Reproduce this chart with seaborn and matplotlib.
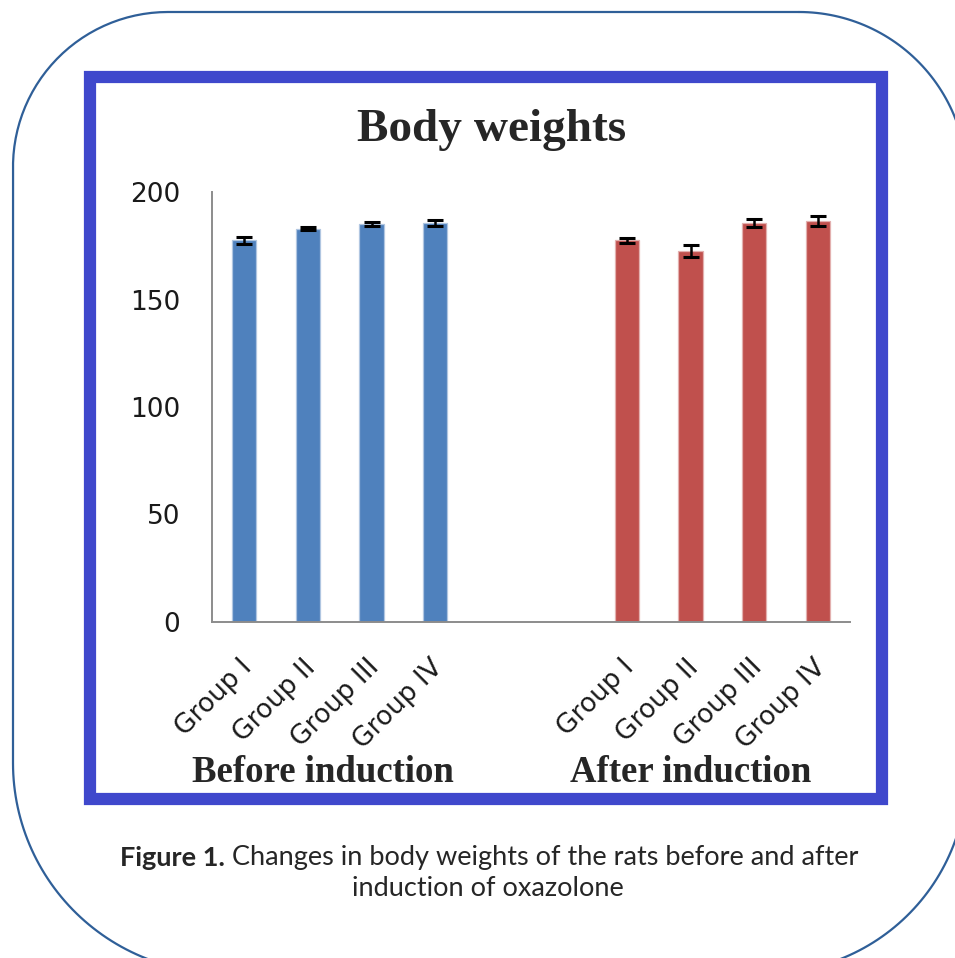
import matplotlib
matplotlib.use("Agg")
import matplotlib.pyplot as plt
import matplotlib.patches as mpatches
import matplotlib.transforms as mtransforms
import matplotlib.colors as mcolors
import seaborn as sns
import numpy as np
import pandas as pd

# === Data ===
groups = ["Group I", "Group II", "Group III", "Group IV"]
phases = ["Before induction", "After induction"]
before_mean = [177.5, 183.0, 185.2, 185.5]
before_err = [1.5, 0.8, 0.8, 1.3]
after_mean = [177.5, 172.5, 185.5, 186.5]
after_err = [1.3, 2.8, 1.8, 2.5]
colors = {phases[0]: "#4f81bd", phases[1]: "#c0504d"}

# slot order on the category axis: two empty slots between the phases
order = [f"B {g}" for g in groups] + ["gap1", "gap2"] + [f"A {g}" for g in groups]
df = pd.DataFrame({
    "slot": [f"B {g}" for g in groups] + [f"A {g}" for g in groups],
    "weight": before_mean + after_mean,
    "err": before_err + after_err,
    "phase": [phases[0]] * 4 + [phases[1]] * 4,
})
df["pos"] = [order.index(s) for s in df["slot"]]

W, H = 955, 958
sns.set_style("white")
fig = plt.figure(figsize=(W / 100, H / 100), dpi=100)


def rounded_outline(x0, y0, x1, y1, r_tl, r_tr, r_br, r_bl, n=60):
    """Outline of a box with its own radius on each corner (y grows downward)."""
    def arc(cx, cy, r, a0, a1):
        t = np.radians(np.linspace(a0, a1, n))
        return cx + r * np.cos(t), cy + r * np.sin(t)
    parts = [arc(x1 - r_tr, y0 + r_tr, r_tr, -90, 0),
             arc(x1 - r_br, y1 - r_br, r_br, 0, 90),
             arc(x0 + r_bl, y1 - r_bl, r_bl, 90, 180),
             arc(x0 + r_tl, y0 + r_tl, r_tl, 180, 270)]
    xs = np.concatenate([p[0] for p in parts] + [parts[0][0][:1]])
    ys = np.concatenate([p[1] for p in parts] + [parts[0][1][:1]])
    return xs, ys


# === Decoration layer in pixel units: outer rounded box and blue frame ===
bg = fig.add_axes([0, 0, 1, 1], zorder=-1)
bg.set_xlim(0, W)
bg.set_ylim(H, 0)
bg.axis("off")
ox, oy = rounded_outline(13, 12, 967, 973, 155, 168, 200, 210)
bg.plot(ox, oy, color="#2f5f98", linewidth=1.6)
bg.add_patch(mpatches.Rectangle((90, 77), 792, 722, fill=False,
                                edgecolor="#3f48cc", linewidth=8.8,
                                joinstyle="miter"))

# === Bar chart ===
ax = fig.add_axes([212 / W, 1 - 622 / H, 638 / W, 430 / H])
ax.patch.set_alpha(0)
sns.barplot(data=df, x="slot", y="weight", hue="phase", order=order,
            palette=colors, saturation=1, dodge=False, width=0.38,
            errorbar=None, legend=False, linewidth=0.9, ax=ax)
# light halo around each bar, like the original
for bar in ax.patches:
    fc = np.array(mcolors.to_rgb(bar.get_facecolor()))
    bar.set_edgecolor(fc + (1 - fc) * 0.55)
ax.errorbar(df["pos"], df["weight"], yerr=df["err"], fmt="none",
            ecolor="black", elinewidth=1.8, capsize=6, capthick=2.2, zorder=5)

ax.set_xlim(-0.5, len(order) - 0.5)
ax.set_ylim(0, 200)
ax.set_yticks([0, 50, 100, 150, 200])
ax.tick_params(axis="y", length=0, pad=23, labelsize=19)
ax.set_xticks(df["pos"])
ax.set_xticklabels(groups * 2, rotation=45, ha="right", va="center",
                   rotation_mode="anchor", fontsize=19)
ax.tick_params(axis="x", length=0, pad=30)
shift = mtransforms.ScaledTranslation(4 / 100, 0, fig.dpi_scale_trans)
for lab in ax.get_xticklabels():
    lab.set_transform(lab.get_transform() + shift)
for lab in ax.get_yticklabels() + ax.get_xticklabels():
    lab.set_color("#1a1a1a")
ax.set_xlabel("")
ax.set_ylabel("")
for side in ["top", "right"]:
    ax.spines[side].set_visible(False)
for side in ["left", "bottom"]:
    ax.spines[side].set_color("#8c8c8c")
    ax.spines[side].set_linewidth(1.4)

# === Texts ===
serif = ["Liberation Serif", "DejaVu Serif"]
fig.text(492 / W, 1 - 130 / H, "Body weights", ha="center", va="center",
         family=serif, fontweight="bold", fontsize=34)
fig.text(323 / W, 1 - 772 / H, phases[0], ha="center", va="center",
         family=serif, fontweight="bold", fontsize=26.5)
fig.text(691 / W, 1 - 772 / H, phases[1], ha="center", va="center",
         family=serif, fontweight="bold", fontsize=26.5)

cap_font = ["Lato", "DejaVu Sans"]
renderer = fig.canvas.get_renderer()
t1 = fig.text(120 / W, 1 - 858 / H, "Figure 1.", ha="left", va="center",
              family=cap_font, fontweight="bold", fontsize=19.5)
w1 = t1.get_window_extent(renderer).width
fig.text((120 + w1 + 7) / W, 1 - 858 / H,
         "Changes in body weights of the rats before and after",
         ha="left", va="center", family=cap_font, fontsize=19.5)
fig.text(488 / W, 1 - 889 / H, "induction of oxazolone", ha="center",
         va="center", family=cap_font, fontsize=19.5)

fig.savefig("out.png", dpi=100)
plt.close(fig)
